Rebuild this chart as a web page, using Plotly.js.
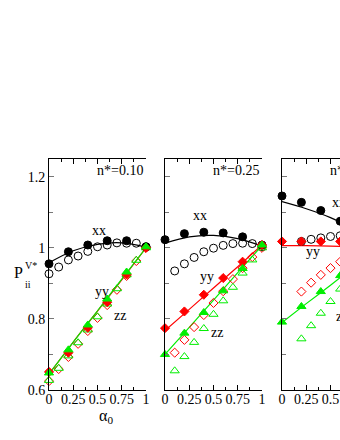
<!DOCTYPE html>
<html>
<head>
<meta charset="utf-8">
<script src="https://cdn.plot.ly/plotly-3.0.1.min.js"></script>
<style>
  html, body { margin: 0; padding: 0; overflow: hidden; background: #fff; }
  #graphDiv { width: 400px; height: 440px; }
</style>
</head>
<body>
<div id="graphDiv"></div>
<script>
  // alpha_0 values
  var alphaFilled = [0, 0.2, 0.4, 0.6, 0.8, 1];
  var alphaOpen = [0, 0.1, 0.2, 0.3, 0.4, 0.5, 0.6, 0.7, 0.8, 0.9, 1];
  var alphaOpen2 = [0.1, 0.2, 0.3, 0.4, 0.5, 0.6, 0.7, 0.8, 0.9, 1];
  var alphaFilled3 = [0, 0.2, 0.4, 0.6];
  var alphaOpen3 = [0.2, 0.3, 0.4, 0.5, 0.6];
  var alphaLine = [0, 0.25, 0.5, 0.75, 1];

  var panelTitles = ['n*=0.10', 'n*=0.25', 'n*=0.50'];

  // panel 1, n*=0.10
  var xxFilled1 = [0.955, 0.989, 1.008, 1.02, 1.02, 1.003];
  var xxOpen1 = [0.927, 0.946, 0.966, 0.977, 0.99, 1.003, 1.008, 1.014, 1.013, 1.013, 1.003];
  var yyFilled1 = [0.651, 0.705, 0.775, 0.847, 0.925, 1.0];
  var yyOpen1 = [0.625, 0.659, 0.693, 0.73, 0.766, 0.803, 0.839, 0.882, 0.921, 0.963, 1.0];
  var zzFilled1 = [0.648, 0.713, 0.783, 0.856, 0.932, 1.003];
  var zzOpen1 = [0.627, 0.661, 0.696, 0.733, 0.769, 0.806, 0.842, 0.885, 0.924, 0.965, 1.0];
  var xxLine1 = [0.958, 0.992, 1.01, 1.014, 1.002];
  var yyLine1 = [0.645, 0.735, 0.822, 0.91, 1.0];
  var zzLine1 = [0.645, 0.735, 0.823, 0.912, 1.0];

  // panel 2, n*=0.25
  var xxFilled2 = [1.023, 1.04, 1.044, 1.042, 1.031, 1.008];
  var xxOpen2 = [0.935, 0.955, 0.973, 0.989, 0.999, 1.007, 1.012, 1.013, 1.012, 1.003];
  var yyFilled2 = [0.774, 0.821, 0.868, 0.915, 0.961, 1.008];
  var yyOpen2 = [0.705, 0.741, 0.777, 0.811, 0.845, 0.878, 0.912, 0.943, 0.974, 1.0];
  var zzFilled2 = [0.70, 0.76, 0.818, 0.879, 0.942, 1.008];
  var zzOpen2 = [0.654, 0.694, 0.734, 0.773, 0.813, 0.851, 0.889, 0.929, 0.966, 1.0];
  var xxLine2 = [1.013, 1.031, 1.035, 1.026, 1.005];
  var yyLine2 = [0.767, 0.827, 0.887, 0.947, 1.008];
  var zzLine2 = [0.70, 0.776, 0.853, 0.93, 1.006];

  // panel 3 (only partly visible)
  var xxFilled3 = [1.146, 1.128, 1.105, 1.075];
  var xxOpen3 = [1.018, 1.024, 1.028, 1.032, 1.034];
  var yyFilled3 = [1.018, 1.018, 1.018, 1.018];
  var yyOpen3 = [0.877, 0.902, 0.924, 0.943, 0.961];
  var zzFilled3 = [0.791, 0.835, 0.877, 0.922];
  var zzOpen3 = [0.744, 0.781, 0.816, 0.849, 0.884];
  var xxLine3 = [1.13, 1.11, 1.085, 1.05, 1.005];
  var yyLine3 = [1.006, 1.006, 1.005, 1.003, 1.0];
  var zzLine3 = [0.79, 0.843, 0.895, 0.948, 1.0];

  var W = 400, H = 440;
  var RED = '#ff0000', GREEN = '#00ee00';
  var serif = '"Liberation Serif", "Times New Roman", serif';

  function line(x, y, color, ax) {
    return { x: x, y: y, xaxis: 'x' + ax, yaxis: 'y' + ax, mode: 'lines',
      line: { color: color, width: 1.2, shape: 'spline' }, hoverinfo: 'skip' };
  }
  function pts(x, y, symbol, color, ax, size) {
    return { x: x, y: y, xaxis: 'x' + ax, yaxis: 'y' + ax, mode: 'markers', cliponaxis: false,
      marker: { symbol: symbol, size: size, color: color, line: { color: color, width: 1 } } };
  }

  var series = [
    [xxLine1, yyLine1, zzLine1, xxFilled1, xxOpen1, yyFilled1, yyOpen1, zzFilled1, zzOpen1, alphaFilled, alphaOpen],
    [xxLine2, yyLine2, zzLine2, xxFilled2, xxOpen2, yyFilled2, yyOpen2, zzFilled2, zzOpen2, alphaFilled, alphaOpen2],
    [xxLine3, yyLine3, zzLine3, xxFilled3, xxOpen3, yyFilled3, yyOpen3, zzFilled3, zzOpen3, alphaFilled3, alphaOpen3]
  ];

  var data = [];
  series.forEach(function (s, i) {
    var ax = i === 0 ? '' : String(i + 1);
    data.push(line(alphaLine, s[0], 'black', ax));
    data.push(line(alphaLine, s[1], RED, ax));
    data.push(line(alphaLine, s[2], GREEN, ax));
    data.push(pts(s[10], s[4], 'circle-open', 'black', ax, 8));
    data.push(pts(s[10], s[6], 'diamond-open', RED, ax, 7));
    data.push(pts(s[10], s[8], 'triangle-up-open', GREEN, ax, 8));
    data.push(pts(s[9], s[3], 'circle', 'black', ax, 8));
    data.push(pts(s[9], s[5], 'diamond', RED, ax, 7));
    data.push(pts(s[9], s[7], 'triangle-up', GREEN, ax, 8));
  });

  var font = { family: serif, size: 14, color: 'black' };
  var yDom = [1 - 390 / H, 1 - 159 / H];
  var xDoms = [[49 / W, 146 / W], [165 / W, 262 / W], [282 / W, 379 / W]];

  var layout = {
    width: W, height: H,
    margin: { l: 0, r: 0, t: 0, b: 0 },
    showlegend: false,
    paper_bgcolor: 'white', plot_bgcolor: 'white',
    font: font,
    annotations: []
  };

  var labelPos = [
    { xx: [0.515, 1.048], yy: [0.546, 0.876], zz: [0.732, 0.811] },
    { xx: [0.36, 1.09], yy: [0.433, 0.918], zz: [0.536, 0.763] },
    { xx: [0.585, 1.127], yy: [0.32, 0.989], zz: [0.62, 0.806] }
  ];

  for (var i = 0; i < 3; i++) {
    var n = i === 0 ? '' : String(i + 1);
    layout['xaxis' + n] = {
      domain: xDoms[i], anchor: 'y' + n, range: [0, 1],
      showgrid: false, zeroline: false, showline: true, linecolor: 'black', linewidth: 1,
      mirror: 'ticks', ticks: 'inside', ticklen: 5, tickcolor: 'black',
      tickmode: 'linear', tick0: 0, dtick: 0.25, ticklabelstandoff: -4,
      minor: { dtick: 0.125, ticks: 'inside', ticklen: 3, tickcolor: 'black', showgrid: false },
      tickfont: font
    };
    layout['yaxis' + n] = {
      domain: yDom, anchor: 'x' + n, range: [0.6, 1.25],
      showgrid: false, zeroline: false, showline: true, linecolor: 'black', linewidth: 1,
      ticks: 'inside', ticklen: 5, tickcolor: '#777',
      tickmode: 'linear', tick0: 0.6, dtick: 0.2,
      minor: { dtick: 0.1, ticks: 'inside', ticklen: 4, tickcolor: '#777', showgrid: false },
      showticklabels: i === 0, tickfont: font
    };
    // grey right-hand frame with ticks
    layout['yaxis' + (i + 4)] = {
      overlaying: 'y' + n, anchor: 'x' + n, side: 'right', range: [0.6, 1.25],
      showgrid: false, zeroline: false, showline: true, linecolor: '#999', linewidth: 1.5,
      ticks: 'inside', ticklen: 5, tickcolor: '#999',
      tickmode: 'linear', tick0: 0.6, dtick: 0.2,
      minor: { dtick: 0.1, ticks: 'inside', ticklen: 4, tickcolor: '#999', showgrid: false },
      showticklabels: false
    };

    var xr = 'x' + n, yr = 'y' + n;
    layout.annotations.push({ xref: xr, yref: yr, x: 0.99, y: 1.217, xanchor: 'right', yanchor: 'middle',
      text: panelTitles[i], showarrow: false, font: font });
    ['xx', 'yy', 'zz'].forEach(function (k) {
      layout.annotations.push({ xref: xr, yref: yr, x: labelPos[i][k][0], y: labelPos[i][k][1],
        text: k, showarrow: false, font: font });
    });
  }

  // axis titles
  layout.annotations.push(
    { xref: 'paper', yref: 'paper', x: 25 / W, y: 1 - 272 / H, xanchor: 'right', text: 'P', showarrow: false,
      font: { family: serif, size: 16, color: 'black' } },
    { xref: 'paper', yref: 'paper', x: 23 / W, y: 1 - 265 / H, xanchor: 'left', text: 'V*', showarrow: false,
      font: { family: serif, size: 10, color: 'black' } },
    { xref: 'paper', yref: 'paper', x: 23 / W, y: 1 - 284 / H, xanchor: 'left', text: 'ii', showarrow: false,
      font: { family: serif, size: 10, color: 'black' } },
    { xref: 'paper', yref: 'paper', x: 98 / W, y: 1 - 406 / H, yanchor: 'top', borderpad: 0,
      text: 'α<sub>0</sub>', showarrow: false,
      font: { family: serif, size: 16, color: 'black' } }
  );

  Plotly.newPlot('graphDiv', data, layout, { staticPlot: true, displayModeBar: false });
</script>
</body>
</html>
